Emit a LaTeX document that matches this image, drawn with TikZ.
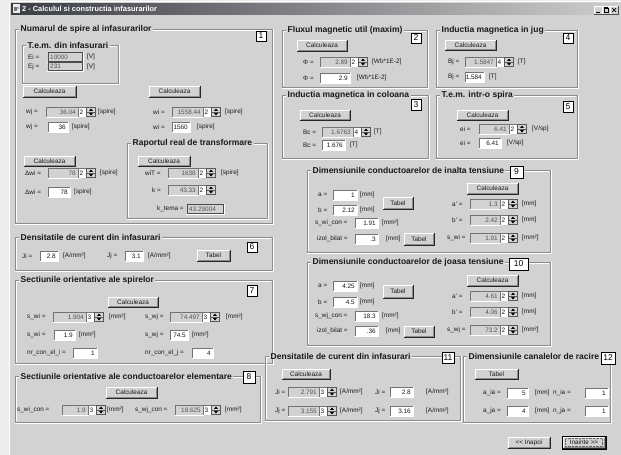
\documentclass[tikz,border=0pt]{standalone}
\usepackage{fontspec}
\setmainfont{Liberation Sans}
\definecolor{bg}{RGB}{210,210,210}
\definecolor{outside}{RGB}{236,236,236}
\definecolor{etchd}{RGB}{140,140,140}
\definecolor{txt}{RGB}{25,25,25}
\definecolor{dis}{RGB}{85,85,85}
\definecolor{tbd}{RGB}{60,62,70}
\definecolor{tbl}{RGB}{205,205,205}
\tikzset{
  lbl/.style={font=\fontsize{6.4}{7}\selectfont, inner sep=0pt, text=txt},
  gtitle/.style={font=\bfseries\fontsize{8.5}{9}\selectfont, inner xsep=1.5pt, inner ysep=0pt, fill=bg, anchor=west, text=txt},
  numfont/.style={font=\fontsize{8.5}{9}\selectfont, inner sep=0pt, text=black},
}
\newcommand{\wframe}[5]{%
  \draw[etchd,line width=0.8pt] (#1,#2) rectangle (#3,#4);
  \draw[white,line width=0.8pt] (#1+1,#4-1) -- (#1+1,#2+1) -- (#3-1,#2+1);
  \draw[white,line width=0.8pt] (#1,#4+1) -- (#3+1,#4+1) -- (#3+1,#2);
  \node[gtitle] at (#1+4,#2) {#5};
}
\newcommand{\wbtn}[5]{%
  \fill[bg] (#1,#2) rectangle (#3,#4);
  \draw[white,line width=0.8pt] (#1,#4) -- (#1,#2) -- (#3,#2);
  \draw[black!45,line width=0.7pt] (#1+1,#4-1) -- (#3-1,#4-1) -- (#3-1,#2+1);
  \draw[black!85,line width=0.7pt] (#1,#4) -- (#3,#4) -- (#3,#2);
  \node[lbl] at ({(#1+#3)/2},{(#2+#4)/2}) {#5};
}
\newcommand{\wbox}[6]{%
  \fill[#5] (#1,#2-5) rectangle (#3,#2+5);
  \draw[black!55,line width=0.7pt] (#1,#2+5) -- (#1,#2-5) -- (#3,#2-5);
  \draw[white,line width=0.7pt] (#1,#2+5) -- (#3,#2+5) -- (#3,#2-5);
  \node[lbl,anchor=east,text=#6] at (#3-2,#2) {#4};
}
\newcommand{\wed}[4]{\wbox{#1}{#2}{#3}{#4}{white}{txt}}
\newcommand{\wdi}[4]{\wbox{#1}{#2}{#3}{#4}{bg}{dis}}
\newcommand{\wro}[4]{%
  \fill[bg] (#1,#2-4.3) rectangle (#3,#2+4.3);
  \draw[black!70,line width=0.7pt] (#1,#2-4.3) rectangle (#3,#2+4.3);
  \draw[white,line width=0.6pt] (#1-0.8,#2+5.1) -- (#3+0.8,#2+5.1) -- (#3+0.8,#2-5);
  \node[lbl,anchor=west,text=dis] at (#1+2,#2) {#4};
}
\newcommand{\wsp}[3]{%
  \fill[white] (#1,#2-5) rectangle (#1+18,#2+5);
  \draw[black!55,line width=0.7pt] (#1,#2+5) -- (#1,#2-5) -- (#1+18,#2-5);
  \node[lbl,anchor=west] at (#1+1.5,#2) {#3};
  \fill[bg] (#1+8.5,#2-4.5) rectangle (#1+17.5,#2+4.5);
  \draw[black!65,line width=0.4pt] (#1+8.5,#2-4.5) rectangle (#1+17.5,#2+4.5);
  \draw[black!65,line width=0.4pt] (#1+8.5,#2) -- (#1+17.5,#2);
  \fill[black] (#1+11,#2-1.2) -- (#1+15,#2-1.2) -- (#1+13,#2-3.3) -- cycle;
  \fill[black] (#1+11,#2+1.2) -- (#1+15,#2+1.2) -- (#1+13,#2+3.3) -- cycle;
}
\newcommand{\wnum}[5]{%
  \fill[black!50] (#1+1,#2+1) rectangle (#3+1,#4+1);
  \filldraw[fill=white,draw=black,line width=0.6pt] (#1,#2) rectangle (#3,#4);
  \node[numfont] at ({(#1+#3)/2},{(#2+#4)/2}) {#5};
}
\newcommand{\wl}[3]{\node[lbl,anchor=west] at (#1,#2) {#3};}
\begin{document}
\begin{tikzpicture}[x=1pt,y=-1pt]
\useasboundingbox (0,0) rectangle (621,455);
\fill[outside] (0,0) rectangle (621,455);
\fill[bg] (9,1) rectangle (621,455);
\draw[white,line width=0.8pt] (9.5,455) -- (9.5,1.5) -- (621,1.5);
% title bar
\shade[left color=tbd, right color=tbl] (11,3) rectangle (619,14);
\fill[white!85!gray] (12.5,4) rectangle (20,12.5);
\fill[black!55] (14,6.5) rectangle (16.5,11);
\fill[black!35] (17,6.5) rectangle (19,9);
\node[anchor=west,font=\bfseries\fontsize{7.4}{8}\selectfont,text=white,inner sep=0pt] at (22,8.6) {2 - Calculul si constructia infasurarilor};
\foreach \bx in {594,602,610}{
  \fill[bg] (\bx,6) rectangle (\bx+8,14);
  \draw[white,line width=0.5pt] (\bx,14) -- (\bx,6) -- (\bx+8,6);
  \draw[black!70,line width=0.5pt] (\bx,14) -- (\bx+8,14) -- (\bx+8,6);
}
\draw[black,line width=0.9pt] (596,12) -- (599.5,12);
\draw[black,line width=0.6pt] (604,8) rectangle (608,12.5);
\draw[black,line width=0.8pt] (604,7.8) -- (608,7.8);
\draw[black,line width=0.7pt] (612,8) -- (616,12) (612,12) -- (616,8);

% ===== Group 1
\wframe{15}{29}{272}{223}{Numarul de spire al infasurarilor}
\wnum{256}{31}{266}{41}{1}
\wframe{22}{45}{118}{83}{T.e.m. din infasurari}
\wl{28}{57}{Ei =}\wro{48}{57}{82}{10000}\wl{87}{57}{[V]}
\wl{28}{66.5}{Ej =}\wro{48}{66.5}{82}{231}\wl{87}{66.5}{[V]}
\wbtn{23}{86}{76}{97}{Calculeaza}
\wbtn{149}{86}{200}{97}{Calculeaza}
\wl{26}{112}{wj =}\wdi{46}{112}{78}{36.04}\wsp{78}{112}{2}\wl{98}{112}{[spire]}
\wl{26}{127}{wj =}\wed{48}{127}{68}{36}\wl{72}{127}{[spire]}
\wl{153}{112}{wi =}\wdi{172}{112}{203}{1558.44}\wsp{203}{112}{2}\wl{225}{112}{[spire]}
\wl{153}{127}{wi =}\wed{172}{127}{190}{1560}\wl{197}{127}{[spire]}
\wbtn{24}{156}{75}{166}{Calculeaza}
\wl{25}{173}{Δwi =}\wdi{48}{173}{78}{78}\wsp{78}{173}{2}\wl{100}{173}{[spire]}
\wl{25}{192}{Δwi =}\wed{48}{192}{70}{78}\wl{74}{192}{[spire]}
\wframe{127}{143}{267}{218}{Raportul real de transformare}
\wbtn{138}{156}{190}{166}{Calculeaza}
\wl{145}{173}{wiT =}\wdi{168}{173}{198}{1638}\wsp{198}{173}{2}\wl{221}{173}{[spire]}
\wl{152}{190}{k =}\wdi{168}{190}{198}{43.33}\wsp{198}{190}{2}
\wl{157}{209}{k\_tema =}\wro{187}{209}{223}{43.29004}

% ===== Group 6
\wframe{15}{237}{272}{270}{Densitatile de curent din infasurari}
\wnum{247}{242}{257}{252}{6}
\wl{22}{256}{Ji =}\wed{40}{256}{58}{2.8}\wl{63}{256}{[A/mm²]}
\wl{107}{256}{Jj =}\wed{125}{256}{143}{3.1}\wl{148}{256}{[A/mm²]}
\wbtn{197}{250}{230}{261}{Tabel}

% ===== Group 7
\wframe{15}{280}{272}{363}{Sectiunile orientative ale spirelor}
\wnum{247}{285}{257}{296}{7}
\wbtn{108}{297}{158}{307}{Calculeaza}
\wl{27}{317}{s\_wi =}\wdi{53}{317}{86}{1.904}\wsp{86}{317}{3}\wl{109}{317}{[mm²]}
\wl{145}{317}{s\_wj =}\wdi{170}{317}{202}{74.497}\wsp{202}{317}{3}\wl{226}{317}{[mm²]}
\wl{27}{335}{s\_wi =}\wed{54}{335}{75}{1.9}\wl{79}{335}{[mm²]}
\wl{145}{335}{s\_wj =}\wed{170}{335}{188}{74.5}\wl{192}{335}{[mm²]}
\wl{27}{353}{nr\_con\_el\_i =}\wed{73}{353}{97}{1}
\wl{145}{353}{nr\_con\_el\_j =}\wed{192}{353}{213}{4}

% ===== Group 8
\wframe{15}{376}{260}{422}{Sectiunile orientative ale conductoarelor elementare}
\wnum{243}{371}{255}{383}{8}
\wbtn{106}{387}{157}{398}{Calculeaza}
\wl{17}{410}{s\_wi\_con =}\wdi{62}{410}{88}{1.9}\wsp{88}{410}{3}\wl{107}{410}{[mm²]}
\wl{135}{410}{s\_wj\_con =}\wdi{175}{410}{203}{18.625}\wsp{203}{410}{3}\wl{225}{410}{[mm²]}

% ===== Group 2
\wframe{282}{30}{427}{87}{Fluxul magnetic util (maxim)}
\wnum{411}{33}{421}{43}{2}
\wbtn{297}{40}{347}{51}{Calculeaza}
\wl{303}{62}{Φ =}\wdi{320}{62}{350}{2.89}\wsp{350}{62}{2}\wl{372}{62}{[Wb*1E-2]}
\wl{303}{78}{Φ =}\wed{320}{78}{350}{2.9}\wl{357}{78}{[Wb*1E-2]}

% ===== Group 3
\wframe{282}{95}{428}{158}{Inductia magnetica in coloana}
\wnum{411}{99}{421}{110}{3}
\wbtn{300}{110}{350}{120}{Calculeaza}
\wl{303}{132}{Bc =}\wdi{322}{132}{353}{1.6763}\wsp{353}{132}{4}\wl{374}{132}{[T]}
\wl{303}{145}{Bc =}\wed{322}{145}{345}{1.676}\wl{350}{145}{[T]}

% ===== Group 4
\wframe{436}{30}{577}{87}{Inductia magnetica in jug}
\wnum{563}{33}{573}{43}{4}
\wbtn{445}{40}{496}{50}{Calculeaza}
\wl{448}{62}{Bj =}\wdi{465}{62}{496}{1.5847}\wsp{496}{62}{4}\wl{518}{62}{[T]}
\wl{448}{77}{Bj =}\wed{465}{77}{484}{1.584}\wl{489}{77}{[T]}

% ===== Group 5
\wframe{436}{95}{577}{158}{T.e.m. intr-o spira}
\wnum{563}{101}{573}{112}{5}
\wbtn{457}{110}{508}{120}{Calculeaza}
\wl{460}{129}{ei =}\wdi{479}{129}{509}{6.41}\wsp{509}{129}{2}\wl{532}{129}{[V/sp]}
\wl{460}{143}{ei =}\wed{479}{143}{501}{6.41}\wl{507}{143}{[V/sp]}

% ===== Group 9
\wframe{307}{170}{550}{252}{Dimensiunile conductoarelor de inalta tensiune}
\wnum{510}{166}{523}{178}{9}
\wl{318}{195}{a =}\wed{333}{195}{357}{1}\wl{360}{195}{[mm]}
\wl{318}{210}{b =}\wed{333}{210}{357}{2.12}\wl{360}{210}{[mm]}
\wbtn{383}{197}{413}{209}{Tabel}
\wl{315}{223}{s\_wi\_con =}\wed{355}{223}{378}{1.91}\wl{382}{223}{[mm²]}
\wl{317}{239}{izol\_bilat =}\wed{355}{239}{378}{.3}\wl{386}{239}{[mm]}
\wbtn{404}{233}{434}{245}{Tabel}
\wbtn{467}{183}{518}{194}{Calculeaza}
\wl{452}{204}{a' =}\wdi{470}{204}{500}{1.3}\wsp{500}{204}{2}\wl{522}{204}{[mm]}
\wl{452}{220}{b' =}\wdi{470}{220}{500}{2.42}\wsp{500}{220}{2}\wl{522}{220}{[mm]}
\wl{447}{238}{s\_wi =}\wdi{470}{238}{500}{1.91}\wsp{500}{238}{2}\wl{522}{238}{[mm²]}

% ===== Group 10
\wframe{307}{262}{550}{345}{Dimensiunile conductoarelor de joasa tensiune}
\wnum{509}{258}{528}{270}{10}
\wl{318}{286}{a =}\wed{333}{286}{357}{4.25}\wl{360}{286}{[mm]}
\wl{318}{302}{b =}\wed{333}{302}{357}{4.5}\wl{360}{302}{[mm]}
\wbtn{383}{285}{413}{298}{Tabel}
\wl{315}{316}{s\_wj\_con =}\wed{355}{316}{378}{18.3}\wl{382}{316}{[mm²]}
\wl{317}{331}{izol\_bilat =}\wed{355}{331}{378}{.36}\wl{386}{331}{[mm]}
\wbtn{404}{326}{434}{337}{Tabel}
\wbtn{467}{275}{518}{286}{Calculeaza}
\wl{452}{296}{a' =}\wdi{470}{296}{500}{4.61}\wsp{500}{296}{2}\wl{522}{296}{[mm]}
\wl{452}{312}{b' =}\wdi{470}{312}{500}{4.06}\wsp{500}{312}{2}\wl{522}{312}{[mm]}
\wl{447}{330}{s\_wj =}\wdi{470}{330}{500}{73.2}\wsp{500}{330}{2}\wl{522}{330}{[mm²]}

% ===== Group 11
\wframe{265}{356}{460}{420}{Densitatile de curent din infasurari}
\wnum{442}{352}{454}{363}{11}
\wbtn{282}{369}{330}{379}{Calculeaza}
\wl{275}{392}{Ji =}\wdi{288}{392}{319}{2.791}\wsp{319}{392}{3}\wl{340}{392}{[A/mm²]}
\wl{375}{392}{Ji =}\wed{390}{392}{413}{2.8}\wl{426}{392}{[A/mm²]}
\wl{275}{411}{Jj =}\wdi{288}{411}{319}{3.155}\wsp{319}{411}{3}\wl{340}{411}{[A/mm²]}
\wl{375}{411}{Jj =}\wed{390}{411}{413}{3.16}\wl{426}{411}{[A/mm²]}

% ===== Group 12
\wframe{463}{356}{610}{422}{Dimensiunile canalelor de racire}
\wnum{601}{352}{615}{364}{12}
\wbtn{475}{369}{518}{379}{Tabel}
\wl{483}{393}{a\_ia =}\wed{507}{393}{528}{5}\wl{535}{393}{[mm]}
\wl{553}{393}{n\_ia =}\wed{585}{393}{608}{1}
\wl{483}{411}{a\_ja =}\wed{507}{411}{528}{4}\wl{535}{411}{[mm]}
\wl{553}{411}{n\_ja =}\wed{585}{411}{608}{1}

% ===== bottom buttons
\wbtn{508}{437}{550}{448}{<\kern0pt< Inapoi}
\draw[black,line width=0.9pt] (562,436) rectangle (606,449);
\wbtn{563}{437}{605}{448}{Inainte >\kern0pt>}
\draw[black!60,line width=0.35pt,dash pattern=on 0.7pt off 0.7pt] (565.5,438.6) rectangle (602.5,446.4);
\end{tikzpicture}
\end{document}
